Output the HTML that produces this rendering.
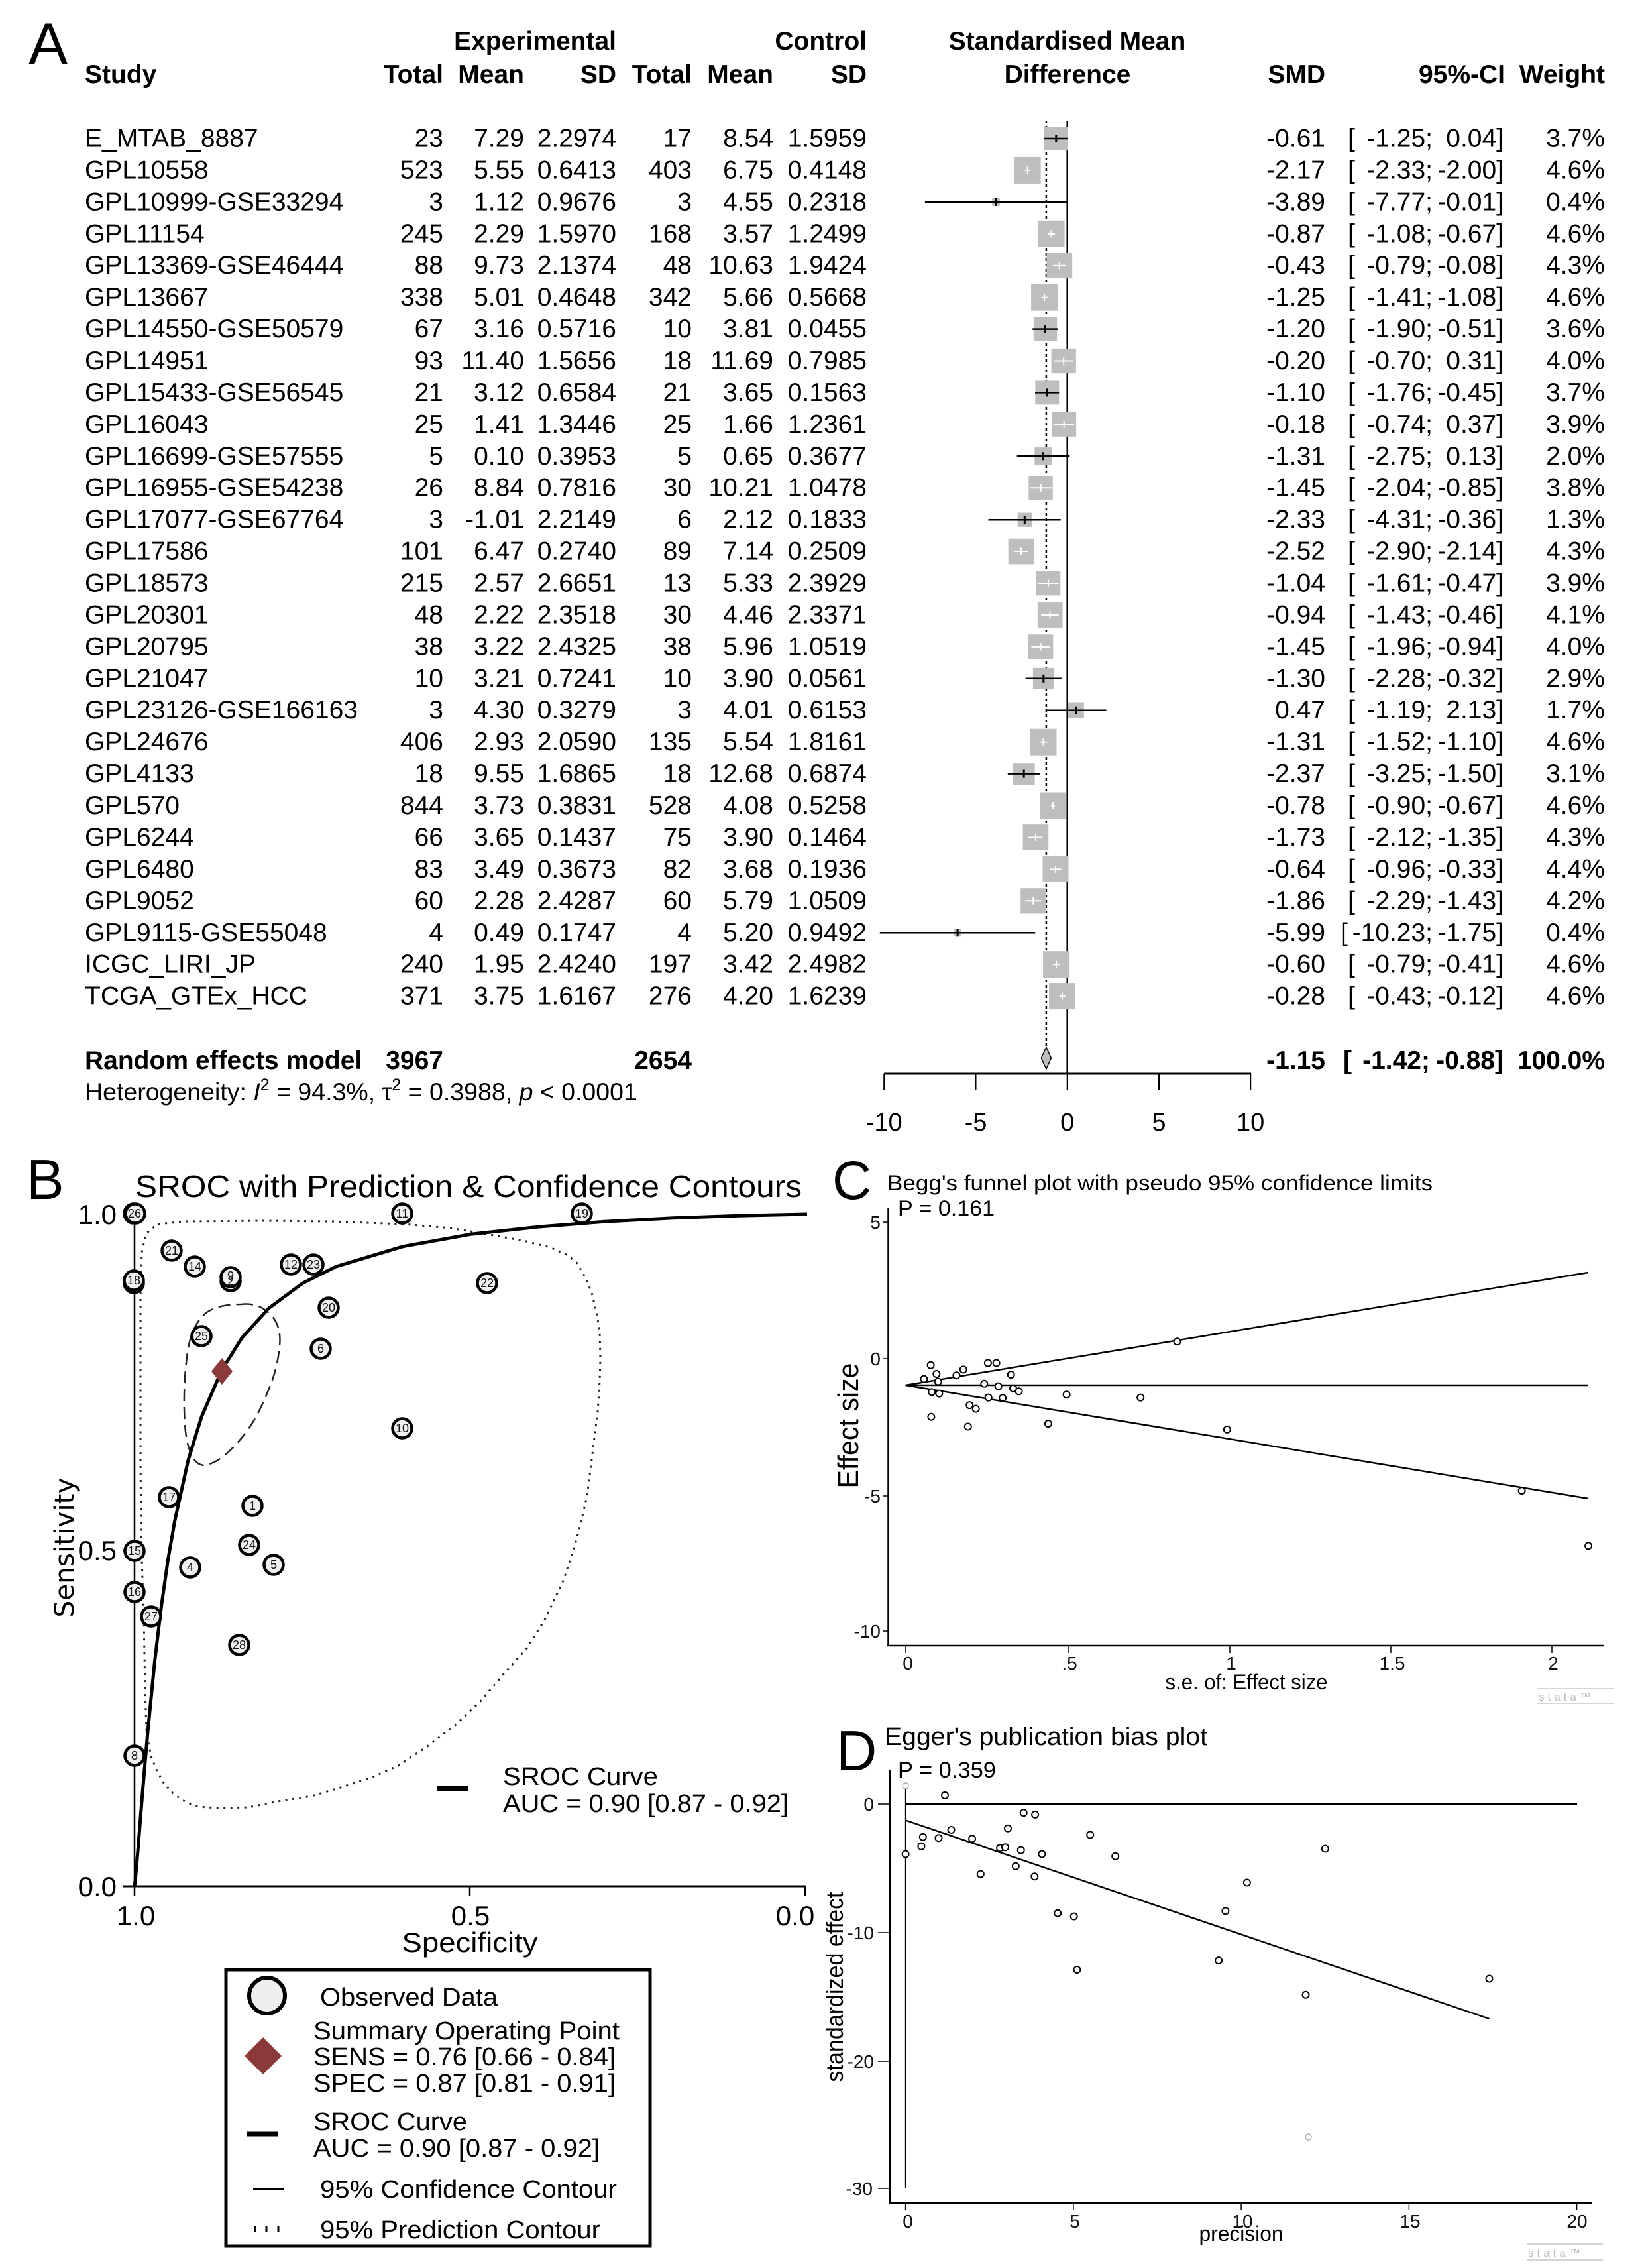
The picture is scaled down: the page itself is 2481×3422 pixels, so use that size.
<!DOCTYPE html>
<html><head><meta charset="utf-8"><style>html,body{margin:0;padding:0;background:#fff}svg{display:block}</style></head>
<body>
<svg xmlns="http://www.w3.org/2000/svg" width="2481" height="3422" viewBox="0 0 2481 3422" font-family="'Liberation Sans', Arial, sans-serif" fill="#000">
<rect width="2481" height="3422" fill="#fff"/>

<!-- ================= PANEL A ================= -->
<text x="43" y="97" font-size="89">A</text>

<line x1="1610.7" y1="182" x2="1610.7" y2="1620" stroke="#000" stroke-width="2.5"/>
<line x1="1578.9" y1="182" x2="1578.9" y2="1582" stroke="#000" stroke-width="2.5" stroke-dasharray="4 4"/>
<polygon points="1571.4,1596.5 1578.9,1580 1586.4,1596.5 1578.9,1613" fill="#bebebe" stroke="#000" stroke-width="1.5"/>
<line x1="1334" y1="1620" x2="1888" y2="1620" stroke="#000" stroke-width="3"/>
<g stroke="#000" stroke-width="2">
<line x1="1334.2" y1="1620" x2="1334.2" y2="1645"/>
<line x1="1472.5" y1="1620" x2="1472.5" y2="1645"/>
<line x1="1610.7" y1="1620" x2="1610.7" y2="1645"/>
<line x1="1749" y1="1620" x2="1749" y2="1645"/>
<line x1="1887.2" y1="1620" x2="1887.2" y2="1645"/>
</g>

<g fill="#bebebe">
<rect x="1575.85" y="191.05" width="35.9" height="35.9"/>
<rect x="1530.7" y="236.9" width="40" height="40"/>
<rect x="1497.2" y="299.0" width="11.8" height="11.8"/>
<rect x="1566.6" y="332.8" width="40" height="40"/>
<rect x="1579.45" y="381.35" width="38.7" height="38.7"/>
<rect x="1556.1" y="428.7" width="40" height="40"/>
<rect x="1559.8" y="478.9" width="35.4" height="35.4"/>
<rect x="1586.55" y="525.85" width="37.3" height="37.3"/>
<rect x="1562.35" y="574.45" width="35.9" height="35.9"/>
<rect x="1587.3" y="622.0" width="36.8" height="36.8"/>
<rect x="1561.3" y="675.1" width="26.4" height="26.4"/>
<rect x="1552.4" y="718.0" width="36.4" height="36.4"/>
<rect x="1535.65" y="773.55" width="21.3" height="21.3"/>
<rect x="1521.65" y="812.75" width="38.7" height="38.7"/>
<rect x="1563.5" y="861.6" width="36.8" height="36.8"/>
<rect x="1565.8" y="909.1" width="37.8" height="37.8"/>
<rect x="1551.95" y="957.25" width="37.3" height="37.3"/>
<rect x="1558.9" y="1007.9" width="31.8" height="31.8"/>
<rect x="1611.55" y="1059.55" width="24.3" height="24.3"/>
<rect x="1554.5" y="1099.7" width="40" height="40"/>
<rect x="1528.8" y="1151.2" width="32.8" height="32.8"/>
<rect x="1569.1" y="1195.5" width="40" height="40"/>
<rect x="1543.55" y="1244.15" width="38.7" height="38.7"/>
<rect x="1573.45" y="1291.85" width="39.1" height="39.1"/>
<rect x="1540.2" y="1340.2" width="38.2" height="38.2"/>
<rect x="1439.2" y="1401.4" width="11.8" height="11.8"/>
<rect x="1574.1" y="1435.2" width="40" height="40"/>
<rect x="1583.0" y="1483.1" width="40" height="40"/>
</g>

<g stroke="#000" stroke-width="2.5">
<line x1="1576.1" y1="209.0" x2="1611.8" y2="209.0"/><line x1="1593.8" y1="203" x2="1593.8" y2="215" stroke-width="3"/>
<line x1="1395.9" y1="304.9" x2="1610.4" y2="304.9"/><line x1="1503.1" y1="298.9" x2="1503.1" y2="310.9" stroke-width="3"/>
<line x1="1558.2" y1="496.6" x2="1596.6" y2="496.6"/><line x1="1577.5" y1="490.6" x2="1577.5" y2="502.6" stroke-width="3"/>
<line x1="1562.0" y1="592.4" x2="1598.3" y2="592.4"/><line x1="1580.3" y1="586.4" x2="1580.3" y2="598.4" stroke-width="3"/>
<line x1="1534.7" y1="688.3" x2="1614.3" y2="688.3"/><line x1="1574.5" y1="682.3" x2="1574.5" y2="694.3" stroke-width="3"/>
<line x1="1491.5" y1="784.2" x2="1600.7" y2="784.2"/><line x1="1546.3" y1="778.2" x2="1546.3" y2="790.2" stroke-width="3"/>
<line x1="1547.7" y1="1023.8" x2="1601.9" y2="1023.8"/><line x1="1574.8" y1="1017.8" x2="1574.8" y2="1029.8" stroke-width="3"/>
<line x1="1577.8" y1="1071.7" x2="1669.6" y2="1071.7"/><line x1="1623.7" y1="1065.7" x2="1623.7" y2="1077.7" stroke-width="3"/>
<line x1="1520.8" y1="1167.6" x2="1569.2" y2="1167.6"/><line x1="1545.2" y1="1161.6" x2="1545.2" y2="1173.6" stroke-width="3"/>
<line x1="1327.8" y1="1407.3" x2="1562.3" y2="1407.3"/><line x1="1445.1" y1="1401.3" x2="1445.1" y2="1413.3" stroke-width="3"/>
</g>
<g stroke="#fff" stroke-width="2">
<line x1="1546.3" y1="256.9" x2="1555.4" y2="256.9"/><line x1="1550.7" y1="251.4" x2="1550.7" y2="262.4"/>
<line x1="1580.8" y1="352.8" x2="1592.2" y2="352.8"/><line x1="1586.6" y1="347.3" x2="1586.6" y2="358.3"/>
<line x1="1588.9" y1="400.7" x2="1608.5" y2="400.7"/><line x1="1598.8" y1="395.2" x2="1598.8" y2="406.2"/>
<line x1="1571.7" y1="448.7" x2="1580.8" y2="448.7"/><line x1="1576.1" y1="443.2" x2="1576.1" y2="454.2"/>
<line x1="1591.3" y1="544.5" x2="1619.3" y2="544.5"/><line x1="1605.2" y1="539" x2="1605.2" y2="550"/>
<line x1="1590.2" y1="640.4" x2="1620.9" y2="640.4"/><line x1="1605.7" y1="634.9" x2="1605.7" y2="645.9"/>
<line x1="1554.3" y1="736.2" x2="1587.2" y2="736.2"/><line x1="1570.6" y1="730.7" x2="1570.6" y2="741.7"/>
<line x1="1530.5" y1="832.1" x2="1551.5" y2="832.1"/><line x1="1541.0" y1="826.6" x2="1541.0" y2="837.6"/>
<line x1="1566.2" y1="880.0" x2="1597.7" y2="880.0"/><line x1="1581.9" y1="874.5" x2="1581.9" y2="885.5"/>
<line x1="1571.2" y1="928.0" x2="1598.0" y2="928.0"/><line x1="1584.7" y1="922.5" x2="1584.7" y2="933.5"/>
<line x1="1556.5" y1="975.9" x2="1584.7" y2="975.9"/><line x1="1570.6" y1="970.4" x2="1570.6" y2="981.4"/>
<line x1="1568.7" y1="1119.7" x2="1580.3" y2="1119.7"/><line x1="1574.5" y1="1114.2" x2="1574.5" y2="1125.2"/>
<line x1="1585.8" y1="1215.5" x2="1592.2" y2="1215.5"/><line x1="1589.1" y1="1210" x2="1589.1" y2="1221"/>
<line x1="1552.1" y1="1263.5" x2="1573.4" y2="1263.5"/><line x1="1562.9" y1="1258" x2="1562.9" y2="1269"/>
<line x1="1584.2" y1="1311.4" x2="1601.6" y2="1311.4"/><line x1="1593.0" y1="1305.9" x2="1593.0" y2="1316.9"/>
<line x1="1547.4" y1="1359.3" x2="1571.2" y2="1359.3"/><line x1="1559.3" y1="1353.8" x2="1559.3" y2="1364.8"/>
<line x1="1588.9" y1="1455.2" x2="1599.4" y2="1455.2"/><line x1="1594.1" y1="1449.7" x2="1594.1" y2="1460.7"/>
<line x1="1598.8" y1="1503.1" x2="1607.4" y2="1503.1"/><line x1="1603.0" y1="1497.6" x2="1603.0" y2="1508.6"/>
</g>

<g font-size="39">
<g font-weight="bold">
<text x="930" y="75" text-anchor="end">Experimental</text>
<text x="1308" y="75" text-anchor="end">Control</text>
<text x="1610.5" y="75" text-anchor="middle">Standardised Mean</text>
<text x="128" y="125">Study</text>
<text x="669" y="125" text-anchor="end">Total</text>
<text x="791" y="125" text-anchor="end">Mean</text>
<text x="930" y="125" text-anchor="end">SD</text>
<text x="1044" y="125" text-anchor="end">Total</text>
<text x="1167" y="125" text-anchor="end">Mean</text>
<text x="1308" y="125" text-anchor="end">SD</text>
<text x="1611" y="125" text-anchor="middle">Difference</text>
<text x="2000" y="125" text-anchor="end">SMD</text>
<text x="2271" y="125" text-anchor="end">95%-CI</text>
<text x="2422" y="125" text-anchor="end">Weight</text>
</g>

<g>
<text x="128" y="221.5">E_MTAB_8887</text>
<text x="128" y="269.4">GPL10558</text>
<text x="128" y="317.4">GPL10999-GSE33294</text>
<text x="128" y="365.3">GPL11154</text>
<text x="128" y="413.2">GPL13369-GSE46444</text>
<text x="128" y="461.2">GPL13667</text>
<text x="128" y="509.1">GPL14550-GSE50579</text>
<text x="128" y="557.0">GPL14951</text>
<text x="128" y="604.9">GPL15433-GSE56545</text>
<text x="128" y="652.9">GPL16043</text>
<text x="128" y="700.8">GPL16699-GSE57555</text>
<text x="128" y="748.7">GPL16955-GSE54238</text>
<text x="128" y="796.7">GPL17077-GSE67764</text>
<text x="128" y="844.6">GPL17586</text>
<text x="128" y="892.5">GPL18573</text>
<text x="128" y="940.5">GPL20301</text>
<text x="128" y="988.4">GPL20795</text>
<text x="128" y="1036.3">GPL21047</text>
<text x="128" y="1084.2">GPL23126-GSE166163</text>
<text x="128" y="1132.2">GPL24676</text>
<text x="128" y="1180.1">GPL4133</text>
<text x="128" y="1228.0">GPL570</text>
<text x="128" y="1276.0">GPL6244</text>
<text x="128" y="1323.9">GPL6480</text>
<text x="128" y="1371.8">GPL9052</text>
<text x="128" y="1419.8">GPL9115-GSE55048</text>
<text x="128" y="1467.7">ICGC_LIRI_JP</text>
<text x="128" y="1515.6">TCGA_GTEx_HCC</text>
</g>

<g text-anchor="end">
<text x="669" y="221.5">23</text><text x="669" y="269.4">523</text><text x="669" y="317.4">3</text><text x="669" y="365.3">245</text><text x="669" y="413.2">88</text><text x="669" y="461.2">338</text><text x="669" y="509.1">67</text><text x="669" y="557.0">93</text><text x="669" y="604.9">21</text><text x="669" y="652.9">25</text><text x="669" y="700.8">5</text><text x="669" y="748.7">26</text><text x="669" y="796.7">3</text><text x="669" y="844.6">101</text><text x="669" y="892.5">215</text><text x="669" y="940.5">48</text><text x="669" y="988.4">38</text><text x="669" y="1036.3">10</text><text x="669" y="1084.2">3</text><text x="669" y="1132.2">406</text><text x="669" y="1180.1">18</text><text x="669" y="1228.0">844</text><text x="669" y="1276.0">66</text><text x="669" y="1323.9">83</text><text x="669" y="1371.8">60</text><text x="669" y="1419.8">4</text><text x="669" y="1467.7">240</text><text x="669" y="1515.6">371</text>
</g>
<g text-anchor="end">
<text x="791" y="221.5">7.29</text><text x="791" y="269.4">5.55</text><text x="791" y="317.4">1.12</text><text x="791" y="365.3">2.29</text><text x="791" y="413.2">9.73</text><text x="791" y="461.2">5.01</text><text x="791" y="509.1">3.16</text><text x="791" y="557.0">11.40</text><text x="791" y="604.9">3.12</text><text x="791" y="652.9">1.41</text><text x="791" y="700.8">0.10</text><text x="791" y="748.7">8.84</text><text x="791" y="796.7">-1.01</text><text x="791" y="844.6">6.47</text><text x="791" y="892.5">2.57</text><text x="791" y="940.5">2.22</text><text x="791" y="988.4">3.22</text><text x="791" y="1036.3">3.21</text><text x="791" y="1084.2">4.30</text><text x="791" y="1132.2">2.93</text><text x="791" y="1180.1">9.55</text><text x="791" y="1228.0">3.73</text><text x="791" y="1276.0">3.65</text><text x="791" y="1323.9">3.49</text><text x="791" y="1371.8">2.28</text><text x="791" y="1419.8">0.49</text><text x="791" y="1467.7">1.95</text><text x="791" y="1515.6">3.75</text>
</g>
<g text-anchor="end">
<text x="930" y="221.5">2.2974</text><text x="930" y="269.4">0.6413</text><text x="930" y="317.4">0.9676</text><text x="930" y="365.3">1.5970</text><text x="930" y="413.2">2.1374</text><text x="930" y="461.2">0.4648</text><text x="930" y="509.1">0.5716</text><text x="930" y="557.0">1.5656</text><text x="930" y="604.9">0.6584</text><text x="930" y="652.9">1.3446</text><text x="930" y="700.8">0.3953</text><text x="930" y="748.7">0.7816</text><text x="930" y="796.7">2.2149</text><text x="930" y="844.6">0.2740</text><text x="930" y="892.5">2.6651</text><text x="930" y="940.5">2.3518</text><text x="930" y="988.4">2.4325</text><text x="930" y="1036.3">0.7241</text><text x="930" y="1084.2">0.3279</text><text x="930" y="1132.2">2.0590</text><text x="930" y="1180.1">1.6865</text><text x="930" y="1228.0">0.3831</text><text x="930" y="1276.0">0.1437</text><text x="930" y="1323.9">0.3673</text><text x="930" y="1371.8">2.4287</text><text x="930" y="1419.8">0.1747</text><text x="930" y="1467.7">2.4240</text><text x="930" y="1515.6">1.6167</text>
</g>
<g text-anchor="end">
<text x="1044" y="221.5">17</text><text x="1044" y="269.4">403</text><text x="1044" y="317.4">3</text><text x="1044" y="365.3">168</text><text x="1044" y="413.2">48</text><text x="1044" y="461.2">342</text><text x="1044" y="509.1">10</text><text x="1044" y="557.0">18</text><text x="1044" y="604.9">21</text><text x="1044" y="652.9">25</text><text x="1044" y="700.8">5</text><text x="1044" y="748.7">30</text><text x="1044" y="796.7">6</text><text x="1044" y="844.6">89</text><text x="1044" y="892.5">13</text><text x="1044" y="940.5">30</text><text x="1044" y="988.4">38</text><text x="1044" y="1036.3">10</text><text x="1044" y="1084.2">3</text><text x="1044" y="1132.2">135</text><text x="1044" y="1180.1">18</text><text x="1044" y="1228.0">528</text><text x="1044" y="1276.0">75</text><text x="1044" y="1323.9">82</text><text x="1044" y="1371.8">60</text><text x="1044" y="1419.8">4</text><text x="1044" y="1467.7">197</text><text x="1044" y="1515.6">276</text>
</g>
<g text-anchor="end">
<text x="1167" y="221.5">8.54</text><text x="1167" y="269.4">6.75</text><text x="1167" y="317.4">4.55</text><text x="1167" y="365.3">3.57</text><text x="1167" y="413.2">10.63</text><text x="1167" y="461.2">5.66</text><text x="1167" y="509.1">3.81</text><text x="1167" y="557.0">11.69</text><text x="1167" y="604.9">3.65</text><text x="1167" y="652.9">1.66</text><text x="1167" y="700.8">0.65</text><text x="1167" y="748.7">10.21</text><text x="1167" y="796.7">2.12</text><text x="1167" y="844.6">7.14</text><text x="1167" y="892.5">5.33</text><text x="1167" y="940.5">4.46</text><text x="1167" y="988.4">5.96</text><text x="1167" y="1036.3">3.90</text><text x="1167" y="1084.2">4.01</text><text x="1167" y="1132.2">5.54</text><text x="1167" y="1180.1">12.68</text><text x="1167" y="1228.0">4.08</text><text x="1167" y="1276.0">3.90</text><text x="1167" y="1323.9">3.68</text><text x="1167" y="1371.8">5.79</text><text x="1167" y="1419.8">5.20</text><text x="1167" y="1467.7">3.42</text><text x="1167" y="1515.6">4.20</text>
</g>
<g text-anchor="end">
<text x="1308" y="221.5">1.5959</text><text x="1308" y="269.4">0.4148</text><text x="1308" y="317.4">0.2318</text><text x="1308" y="365.3">1.2499</text><text x="1308" y="413.2">1.9424</text><text x="1308" y="461.2">0.5668</text><text x="1308" y="509.1">0.0455</text><text x="1308" y="557.0">0.7985</text><text x="1308" y="604.9">0.1563</text><text x="1308" y="652.9">1.2361</text><text x="1308" y="700.8">0.3677</text><text x="1308" y="748.7">1.0478</text><text x="1308" y="796.7">0.1833</text><text x="1308" y="844.6">0.2509</text><text x="1308" y="892.5">2.3929</text><text x="1308" y="940.5">2.3371</text><text x="1308" y="988.4">1.0519</text><text x="1308" y="1036.3">0.0561</text><text x="1308" y="1084.2">0.6153</text><text x="1308" y="1132.2">1.8161</text><text x="1308" y="1180.1">0.6874</text><text x="1308" y="1228.0">0.5258</text><text x="1308" y="1276.0">0.1464</text><text x="1308" y="1323.9">0.1936</text><text x="1308" y="1371.8">1.0509</text><text x="1308" y="1419.8">0.9492</text><text x="1308" y="1467.7">2.4982</text><text x="1308" y="1515.6">1.6239</text>
</g>
<g text-anchor="end">
<text x="2000" y="221.5">-0.61</text><text x="2000" y="269.4">-2.17</text><text x="2000" y="317.4">-3.89</text><text x="2000" y="365.3">-0.87</text><text x="2000" y="413.2">-0.43</text><text x="2000" y="461.2">-1.25</text><text x="2000" y="509.1">-1.20</text><text x="2000" y="557.0">-0.20</text><text x="2000" y="604.9">-1.10</text><text x="2000" y="652.9">-0.18</text><text x="2000" y="700.8">-1.31</text><text x="2000" y="748.7">-1.45</text><text x="2000" y="796.7">-2.33</text><text x="2000" y="844.6">-2.52</text><text x="2000" y="892.5">-1.04</text><text x="2000" y="940.5">-0.94</text><text x="2000" y="988.4">-1.45</text><text x="2000" y="1036.3">-1.30</text><text x="2000" y="1084.2">0.47</text><text x="2000" y="1132.2">-1.31</text><text x="2000" y="1180.1">-2.37</text><text x="2000" y="1228.0">-0.78</text><text x="2000" y="1276.0">-1.73</text><text x="2000" y="1323.9">-0.64</text><text x="2000" y="1371.8">-1.86</text><text x="2000" y="1419.8">-5.99</text><text x="2000" y="1467.7">-0.60</text><text x="2000" y="1515.6">-0.28</text>
</g>
<g>
<text x="2034" y="221.5">[</text><text x="2034" y="269.4">[</text><text x="2034" y="317.4">[</text><text x="2034" y="365.3">[</text><text x="2034" y="413.2">[</text><text x="2034" y="461.2">[</text><text x="2034" y="509.1">[</text><text x="2034" y="557.0">[</text><text x="2034" y="604.9">[</text><text x="2034" y="652.9">[</text><text x="2034" y="700.8">[</text><text x="2034" y="748.7">[</text><text x="2034" y="796.7">[</text><text x="2034" y="844.6">[</text><text x="2034" y="892.5">[</text><text x="2034" y="940.5">[</text><text x="2034" y="988.4">[</text><text x="2034" y="1036.3">[</text><text x="2034" y="1084.2">[</text><text x="2034" y="1132.2">[</text><text x="2034" y="1180.1">[</text><text x="2034" y="1228.0">[</text><text x="2034" y="1276.0">[</text><text x="2034" y="1323.9">[</text><text x="2034" y="1371.8">[</text><text x="2023" y="1419.8">[</text><text x="2034" y="1467.7">[</text><text x="2034" y="1515.6">[</text>
</g>
<g text-anchor="end">
<text x="2162" y="221.5">-1.25;</text><text x="2162" y="269.4">-2.33;</text><text x="2162" y="317.4">-7.77;</text><text x="2162" y="365.3">-1.08;</text><text x="2162" y="413.2">-0.79;</text><text x="2162" y="461.2">-1.41;</text><text x="2162" y="509.1">-1.90;</text><text x="2162" y="557.0">-0.70;</text><text x="2162" y="604.9">-1.76;</text><text x="2162" y="652.9">-0.74;</text><text x="2162" y="700.8">-2.75;</text><text x="2162" y="748.7">-2.04;</text><text x="2162" y="796.7">-4.31;</text><text x="2162" y="844.6">-2.90;</text><text x="2162" y="892.5">-1.61;</text><text x="2162" y="940.5">-1.43;</text><text x="2162" y="988.4">-1.96;</text><text x="2162" y="1036.3">-2.28;</text><text x="2162" y="1084.2">-1.19;</text><text x="2162" y="1132.2">-1.52;</text><text x="2162" y="1180.1">-3.25;</text><text x="2162" y="1228.0">-0.90;</text><text x="2162" y="1276.0">-2.12;</text><text x="2162" y="1323.9">-0.96;</text><text x="2162" y="1371.8">-2.29;</text><text x="2162" y="1419.8">-10.23;</text><text x="2162" y="1467.7">-0.79;</text><text x="2162" y="1515.6">-0.43;</text>
</g>
<g text-anchor="end">
<text x="2269" y="221.5">0.04]</text><text x="2269" y="269.4">-2.00]</text><text x="2269" y="317.4">-0.01]</text><text x="2269" y="365.3">-0.67]</text><text x="2269" y="413.2">-0.08]</text><text x="2269" y="461.2">-1.08]</text><text x="2269" y="509.1">-0.51]</text><text x="2269" y="557.0">0.31]</text><text x="2269" y="604.9">-0.45]</text><text x="2269" y="652.9">0.37]</text><text x="2269" y="700.8">0.13]</text><text x="2269" y="748.7">-0.85]</text><text x="2269" y="796.7">-0.36]</text><text x="2269" y="844.6">-2.14]</text><text x="2269" y="892.5">-0.47]</text><text x="2269" y="940.5">-0.46]</text><text x="2269" y="988.4">-0.94]</text><text x="2269" y="1036.3">-0.32]</text><text x="2269" y="1084.2">2.13]</text><text x="2269" y="1132.2">-1.10]</text><text x="2269" y="1180.1">-1.50]</text><text x="2269" y="1228.0">-0.67]</text><text x="2269" y="1276.0">-1.35]</text><text x="2269" y="1323.9">-0.33]</text><text x="2269" y="1371.8">-1.43]</text><text x="2269" y="1419.8">-1.75]</text><text x="2269" y="1467.7">-0.41]</text><text x="2269" y="1515.6">-0.12]</text>
</g>
<g text-anchor="end">
<text x="2422" y="221.5">3.7%</text><text x="2422" y="269.4">4.6%</text><text x="2422" y="317.4">0.4%</text><text x="2422" y="365.3">4.6%</text><text x="2422" y="413.2">4.3%</text><text x="2422" y="461.2">4.6%</text><text x="2422" y="509.1">3.6%</text><text x="2422" y="557.0">4.0%</text><text x="2422" y="604.9">3.7%</text><text x="2422" y="652.9">3.9%</text><text x="2422" y="700.8">2.0%</text><text x="2422" y="748.7">3.8%</text><text x="2422" y="796.7">1.3%</text><text x="2422" y="844.6">4.3%</text><text x="2422" y="892.5">3.9%</text><text x="2422" y="940.5">4.1%</text><text x="2422" y="988.4">4.0%</text><text x="2422" y="1036.3">2.9%</text><text x="2422" y="1084.2">1.7%</text><text x="2422" y="1132.2">4.6%</text><text x="2422" y="1180.1">3.1%</text><text x="2422" y="1228.0">4.6%</text><text x="2422" y="1276.0">4.3%</text><text x="2422" y="1323.9">4.4%</text><text x="2422" y="1371.8">4.2%</text><text x="2422" y="1419.8">0.4%</text><text x="2422" y="1467.7">4.6%</text><text x="2422" y="1515.6">4.6%</text>
</g>

<g font-weight="bold">
<text x="128" y="1613">Random effects model</text>
<text x="669" y="1613" text-anchor="end">3967</text>
<text x="1044" y="1613" text-anchor="end">2654</text>
<text x="2000" y="1613" text-anchor="end">-1.15</text>
<text x="2027" y="1613">[</text>
<text x="2158" y="1613" text-anchor="end">-1.42;</text>
<text x="2269" y="1613" text-anchor="end">-0.88]</text>
<text x="2422" y="1613" text-anchor="end">100.0%</text>
</g>
<text x="128" y="1660" font-size="37.5">Heterogeneity: <tspan font-style="italic">I</tspan><tspan font-size="25" dy="-15">2</tspan><tspan dy="15"> = 94.3%, τ</tspan><tspan font-size="25" dy="-15">2</tspan><tspan dy="15"> = 0.3988, </tspan><tspan font-style="italic">p</tspan> &lt; 0.0001</text>

<g text-anchor="middle" font-size="38">
<text x="1334.2" y="1706">-10</text>
<text x="1472.5" y="1706">-5</text>
<text x="1610.7" y="1706">0</text>
<text x="1749" y="1706">5</text>
<text x="1887.2" y="1706">10</text>
</g>
</g>

<!-- ================= PANEL B ================= -->
<text x="40" y="1809" font-size="85">B</text>
<text x="204" y="1806" font-size="46" textLength="1006" lengthAdjust="spacingAndGlyphs">SROC with Prediction &amp; Confidence Contours</text>

<path d="M213 2320 L212 2200 L212 2084 L212 1954 L214 1890 L220 1862 L237 1847 L280 1843 L400 1842 L500 1843 L609 1847 L680 1853 L728 1861 L790 1872 L830 1882 L855 1893 L870 1905 L885 1930 L894 1954 L901 1985 L905 2008 L906 2050 L905 2084 L902 2130 L898 2161 L892 2210 L886 2257 L876 2300 L866 2337 L850 2385 L822 2444 L795 2487 L759 2527 L725 2567 L688 2602 L645 2635 L601 2664 L560 2682 L514 2697 L470 2710 L419 2718 L375 2727 L332 2728 L310 2727 L293 2724 L275 2716 L261 2706 L247 2690 L237 2672 L228 2650 L225 2635 L221 2610 L219 2550 L217 2444 Z" fill="none" stroke="#222" stroke-width="3" stroke-dasharray="3 7.5"/>

<path d="M364 1968 C380 1966 395 1970 408 1983 C420 1995 424 2012 422 2030 C420 2055 413 2080 404 2100 C392 2130 378 2155 360 2175 C345 2192 328 2208 308 2211 C292 2210 284 2190 280 2160 C276 2120 278 2075 283 2040 C287 2012 297 1992 312 1980 C328 1970 346 1968 364 1968 Z" fill="none" stroke="#222" stroke-width="2.5" stroke-dasharray="18 9"/>

<line x1="203" y1="1832" x2="203" y2="2846" stroke="#000" stroke-width="2.5"/>
<line x1="186" y1="2846" x2="1216" y2="2846" stroke="#000" stroke-width="3"/>
<g stroke="#000" stroke-width="2.5">
<line x1="186" y1="1832" x2="203" y2="1832"/>
<line x1="186" y1="2339" x2="203" y2="2339"/>
<line x1="203" y1="2846" x2="203" y2="2861"/>
<line x1="709" y1="2846" x2="709" y2="2861"/>
<line x1="1215" y1="2846" x2="1215" y2="2861"/>
</g>
<g font-size="42" text-anchor="end">
<text x="176" y="1847">1.0</text>
<text x="176" y="2354">0.5</text>
<text x="176" y="2861">0.0</text>
</g>
<g font-size="42" text-anchor="middle">
<text x="205" y="2905">1.0</text>
<text x="710" y="2905">0.5</text>
<text x="1200" y="2905">0.0</text>
</g>
<text x="709" y="2945" font-size="42" text-anchor="middle" textLength="205" lengthAdjust="spacingAndGlyphs">Specificity</text>
<text transform="translate(111,2335) rotate(-90)" font-family="'DejaVu Sans', sans-serif" font-size="40" text-anchor="middle" textLength="211" lengthAdjust="spacingAndGlyphs">Sensitivity</text>

<polyline points="203,2846 204,2837.8 205,2827.3 208.1,2791.8 210.1,2766.7 213.1,2728.7 218.2,2667.5 223.3,2609.7 233.4,2507.3 243.5,2423.2 253.7,2352.2 263.8,2294.4 284,2203.1 304.3,2137.2 334.7,2067.2 365.1,2018.6 405.6,1974 456.3,1936.4 506.9,1911.1 608.2,1880.7 709.5,1862.4 810.8,1851.3 912.1,1843.2 1013.4,1837.9 1114.7,1834.2 1218,1832" fill="none" stroke="#000" stroke-width="5" stroke-linejoin="round"/>

<g stroke="#000" stroke-width="4.5" fill="#efefef">
<circle cx="202" cy="1831" r="14.5"/>
<circle cx="204" cy="1831" r="14.5"/>
<circle cx="607" cy="1831" r="14.5"/>
<circle cx="878" cy="1831" r="14.5"/>
<circle cx="259" cy="1887" r="14.5"/>
<circle cx="294" cy="1911" r="14.5"/>
<circle cx="348" cy="1933" r="14.5"/>
<circle cx="348" cy="1927" r="14.5"/>
<circle cx="439" cy="1908" r="14.5"/>
<circle cx="473" cy="1908" r="14.5"/>
<circle cx="202" cy="1936" r="14.5"/>
<circle cx="202" cy="1932" r="14.5"/>
<circle cx="735" cy="1936" r="14.5"/>
<circle cx="496" cy="1973" r="14.5"/>
<circle cx="304" cy="2016" r="14.5"/>
<circle cx="484" cy="2035" r="14.5"/>
<circle cx="607" cy="2155" r="14.5"/>
<circle cx="255" cy="2259" r="14.5"/>
<circle cx="381" cy="2272" r="14.5"/>
<circle cx="376" cy="2331" r="14.5"/>
<circle cx="203" cy="2340" r="14.5"/>
<circle cx="287" cy="2365" r="14.5"/>
<circle cx="413" cy="2361" r="14.5"/>
<circle cx="203" cy="2402" r="14.5"/>
<circle cx="228" cy="2439" r="14.5"/>
<circle cx="361" cy="2482" r="14.5"/>
<circle cx="203" cy="2649" r="14.5"/>
</g>
<g font-size="18" text-anchor="middle" fill="#111">
<text x="203" y="1837">26</text>
<text x="607" y="1837">11</text>
<text x="878" y="1837">19</text>
<text x="259" y="1893">21</text>
<text x="294" y="1917">14</text>
<text x="348" y="1939">2</text>
<text x="348" y="1931">9</text>
<text x="439" y="1914">12</text>
<text x="473" y="1914">23</text>
<text x="202" y="1938">18</text>
<text x="735" y="1942">22</text>
<text x="496" y="1979">20</text>
<text x="304" y="2022">25</text>
<text x="484" y="2041">6</text>
<text x="607" y="2161">10</text>
<text x="255" y="2265">17</text>
<text x="381" y="2278">1</text>
<text x="376" y="2337">24</text>
<text x="203" y="2346">15</text>
<text x="287" y="2371">4</text>
<text x="413" y="2367">5</text>
<text x="203" y="2408">16</text>
<text x="228" y="2445">27</text>
<text x="361" y="2488">28</text>
<text x="203" y="2655">8</text>
</g>

<polygon points="335,2049 351,2069 335,2089 319,2069" fill="#8b3a3a"/>

<line x1="660" y1="2698" x2="706" y2="2698" stroke="#000" stroke-width="8"/>
<text x="759" y="2693" font-size="38" textLength="234" lengthAdjust="spacingAndGlyphs">SROC Curve</text>
<text x="759" y="2734" font-size="38" textLength="431" lengthAdjust="spacingAndGlyphs">AUC = 0.90 [0.87 - 0.92]</text>

<rect x="341" y="2972" width="640" height="417" fill="none" stroke="#000" stroke-width="5"/>
<circle cx="403" cy="3011" r="27" fill="#efefef" stroke="#000" stroke-width="6"/>
<text x="483" y="3026" font-size="38" textLength="268" lengthAdjust="spacingAndGlyphs">Observed Data</text>
<polygon points="397,3074 425,3102 397,3130 369,3102" fill="#8b3a3a"/>
<text x="473" y="3077" font-size="38" textLength="462" lengthAdjust="spacingAndGlyphs">Summary Operating Point</text>
<text x="473" y="3116" font-size="38" textLength="456" lengthAdjust="spacingAndGlyphs">SENS = 0.76 [0.66 - 0.84]</text>
<text x="473" y="3156" font-size="38" textLength="456" lengthAdjust="spacingAndGlyphs">SPEC = 0.87 [0.81 - 0.91]</text>
<line x1="373" y1="3220" x2="419" y2="3220" stroke="#000" stroke-width="7"/>
<text x="473" y="3214" font-size="38" textLength="232" lengthAdjust="spacingAndGlyphs">SROC Curve</text>
<text x="473" y="3254" font-size="38" textLength="432" lengthAdjust="spacingAndGlyphs">AUC = 0.90 [0.87 - 0.92]</text>
<line x1="382" y1="3303" x2="429" y2="3303" stroke="#000" stroke-width="4"/>
<text x="483" y="3316" font-size="38" textLength="448" lengthAdjust="spacingAndGlyphs">95% Confidence Contour</text>
<g stroke="#000" stroke-width="3">
<line x1="385" y1="3358" x2="385" y2="3367"/>
<line x1="402" y1="3358" x2="402" y2="3367"/>
<line x1="420" y1="3358" x2="420" y2="3367"/>
</g>
<text x="483" y="3377" font-size="38" textLength="423" lengthAdjust="spacingAndGlyphs">95% Prediction Contour</text>

<!-- ================= PANEL C ================= -->
<text x="1256" y="1809" font-size="82">C</text>
<text x="1339" y="1796" font-size="32" textLength="823" lengthAdjust="spacingAndGlyphs">Begg's funnel plot with pseudo 95% confidence limits</text>
<text x="1355" y="1834" font-size="32" textLength="146" lengthAdjust="spacingAndGlyphs">P = 0.161</text>
<line x1="1340.5" y1="1822" x2="1340.5" y2="2484" stroke="#000" stroke-width="2.5"/>
<line x1="1339" y1="2483" x2="2421" y2="2483" stroke="#000" stroke-width="2.5"/>
<g stroke="#000" stroke-width="1.5">
<line x1="1332" y1="1844" x2="1340" y2="1844"/>
<line x1="1332" y1="2050" x2="1340" y2="2050"/>
<line x1="1332" y1="2257" x2="1340" y2="2257"/>
<line x1="1332" y1="2461" x2="1340" y2="2461"/>
<line x1="1367" y1="2483" x2="1367" y2="2494"/>
<line x1="1612" y1="2483" x2="1612" y2="2494"/>
<line x1="1856" y1="2483" x2="1856" y2="2494"/>
<line x1="2099" y1="2483" x2="2099" y2="2494"/>
<line x1="2342" y1="2483" x2="2342" y2="2494"/>
</g>
<g font-size="28" text-anchor="end" fill="#111">
<text x="1329" y="1854">5</text>
<text x="1329" y="2060">0</text>
<text x="1329" y="2267">-5</text>
<text x="1329" y="2471">-10</text>
</g>
<g font-size="28" text-anchor="middle" fill="#111">
<text x="1370" y="2519">0</text>
<text x="1614" y="2519">.5</text>
<text x="1858" y="2519">1</text>
<text x="2101" y="2519">1.5</text>
<text x="2344" y="2519">2</text>
</g>
<text x="1881" y="2549" font-size="32" text-anchor="middle" textLength="245" lengthAdjust="spacingAndGlyphs">s.e. of: Effect size</text>
<text transform="translate(1295,2151) rotate(-90)" font-size="44" text-anchor="middle" textLength="189" lengthAdjust="spacingAndGlyphs">Effect size</text>
<g stroke="#000" stroke-width="2.5">
<line x1="1366.6" y1="2090" x2="2397" y2="2090"/>
<line x1="1366.6" y1="2090" x2="2397" y2="1920"/>
<line x1="1366.6" y1="2090" x2="2397" y2="2261"/>
</g>
<g fill="#fff" stroke="#000" stroke-width="2">
<circle cx="1404.6" cy="2059.8" r="5"/><circle cx="1394.3" cy="2080.6" r="5"/><circle cx="1413.3" cy="2073.0" r="5"/><circle cx="1415.7" cy="2084.5" r="5"/><circle cx="1406.2" cy="2100.4" r="5"/><circle cx="1417.3" cy="2102.6" r="5"/><circle cx="1405.4" cy="2137.7" r="5"/><circle cx="1443.4" cy="2075.2" r="5"/><circle cx="1453.7" cy="2066.4" r="5"/><circle cx="1490.9" cy="2056.5" r="5"/><circle cx="1503.6" cy="2056.5" r="5"/><circle cx="1485.3" cy="2087.8" r="5"/><circle cx="1506.7" cy="2091.6" r="5"/><circle cx="1491.7" cy="2108.6" r="5"/><circle cx="1513.1" cy="2109.2" r="5"/><circle cx="1463.2" cy="2120.1" r="5"/><circle cx="1472.7" cy="2125.6" r="5"/><circle cx="1460.8" cy="2152.5" r="5"/><circle cx="1525.7" cy="2074.1" r="5"/><circle cx="1528.9" cy="2094.9" r="5"/><circle cx="1537.6" cy="2099.3" r="5"/><circle cx="1609.6" cy="2104.2" r="5"/><circle cx="1581.9" cy="2148.1" r="5"/><circle cx="1721.2" cy="2108.6" r="5"/><circle cx="1776.6" cy="2024.2" r="5"/><circle cx="1851.8" cy="2156.9" r="5"/><circle cx="2296.6" cy="2249.1" r="5"/><circle cx="2397.1" cy="2332.4" r="5"/>
</g>
<g stroke="#c8c8c8" stroke-width="1.5">
<line x1="2320" y1="2548" x2="2436" y2="2548"/>
<line x1="2320" y1="2570" x2="2436" y2="2570"/>
</g>
<text x="2322" y="2566" font-size="17" fill="#bbb" letter-spacing="5">stata™</text>

<!-- ================= PANEL D ================= -->
<text x="1262" y="2671" font-size="85">D</text>
<text x="1335" y="2633" font-size="38" textLength="487" lengthAdjust="spacingAndGlyphs">Egger's publication bias plot</text>
<text x="1355" y="2682" font-size="34" textLength="148" lengthAdjust="spacingAndGlyphs">P = 0.359</text>
<line x1="1343" y1="2671" x2="1343" y2="3325" stroke="#000" stroke-width="2.5"/>
<line x1="1342" y1="3324" x2="2403" y2="3324" stroke="#000" stroke-width="2.5"/>
<g stroke="#000" stroke-width="1.5">
<line x1="1325" y1="2722" x2="1343" y2="2722"/>
<line x1="1325" y1="2916" x2="1343" y2="2916"/>
<line x1="1325" y1="3110" x2="1343" y2="3110"/>
<line x1="1325" y1="3302" x2="1343" y2="3302"/>
<line x1="1366.6" y1="3324" x2="1366.6" y2="3334"/>
<line x1="1619.9" y1="3324" x2="1619.9" y2="3334"/>
<line x1="1873.1" y1="3324" x2="1873.1" y2="3334"/>
<line x1="2126.4" y1="3324" x2="2126.4" y2="3334"/>
<line x1="2379.6" y1="3324" x2="2379.6" y2="3334"/>
</g>
<g font-size="28" text-anchor="end" fill="#111">
<text x="1319" y="2732">0</text>
<text x="1319" y="2926">-10</text>
<text x="1319" y="3120">-20</text>
<text x="1317" y="3312">-30</text>
</g>
<g font-size="28" text-anchor="middle" fill="#111">
<text x="1370" y="3361">0</text>
<text x="1622" y="3361">5</text>
<text x="1875" y="3361">10</text>
<text x="2128" y="3361">15</text>
<text x="2380" y="3361">20</text>
</g>
<text x="1873" y="3381" font-size="32" text-anchor="middle" textLength="127" lengthAdjust="spacingAndGlyphs">precision</text>
<text transform="translate(1272,2998) rotate(-90)" font-size="36" text-anchor="middle" textLength="287" lengthAdjust="spacingAndGlyphs">standardized effect</text>
<line x1="1366.6" y1="2693" x2="1366.6" y2="3302" stroke="#000" stroke-width="1.5"/>
<line x1="1366.6" y1="2722" x2="2380" y2="2722" stroke="#000" stroke-width="2.5"/>
<line x1="1366.6" y1="2746.5" x2="2247.5" y2="3046" stroke="#000" stroke-width="2.5"/>
<g fill="#fff" stroke="#000" stroke-width="2">
<circle cx="1426.0" cy="2708.9" r="5"/><circle cx="1366.6" cy="2797.5" r="5"/><circle cx="1390.4" cy="2785.7" r="5"/><circle cx="1392.8" cy="2771.7" r="5"/><circle cx="1416.5" cy="2773.3" r="5"/><circle cx="1435.5" cy="2761.0" r="5"/><circle cx="1467.1" cy="2774.4" r="5"/><circle cx="1479.8" cy="2827.6" r="5"/><circle cx="1509.1" cy="2788.4" r="5"/><circle cx="1517.0" cy="2787.3" r="5"/><circle cx="1521.0" cy="2758.8" r="5"/><circle cx="1532.8" cy="2815.8" r="5"/><circle cx="1540.7" cy="2791.6" r="5"/><circle cx="1544.7" cy="2735.2" r="5"/><circle cx="1562.1" cy="2737.9" r="5"/><circle cx="1561.3" cy="2831.3" r="5"/><circle cx="1572.4" cy="2797.5" r="5"/><circle cx="1596.2" cy="2886.7" r="5"/><circle cx="1620.7" cy="2891.5" r="5"/><circle cx="1625.4" cy="2972.0" r="5"/><circle cx="1645.2" cy="2768.5" r="5"/><circle cx="1683.2" cy="2800.7" r="5"/><circle cx="1839.1" cy="2958.1" r="5"/><circle cx="1849.4" cy="2883.4" r="5"/><circle cx="1881.9" cy="2840.5" r="5"/><circle cx="1970.5" cy="3009.7" r="5"/><circle cx="1999.8" cy="2789.5" r="5"/><circle cx="2247.5" cy="2985.5" r="5"/>
</g>
<g fill="#fff" stroke="#aaa" stroke-width="1.5">
<circle cx="1366.6" cy="2694.4" r="4.5"/>
<circle cx="1974.5" cy="3224.5" r="4.5"/>
</g>
<g stroke="#c8c8c8" stroke-width="1.5">
<line x1="2304" y1="3386" x2="2419" y2="3386"/>
<line x1="2304" y1="3410" x2="2419" y2="3410"/>
</g>
<text x="2306" y="3405" font-size="17" fill="#bbb" letter-spacing="5">stata™</text>

</svg>
</body></html>
